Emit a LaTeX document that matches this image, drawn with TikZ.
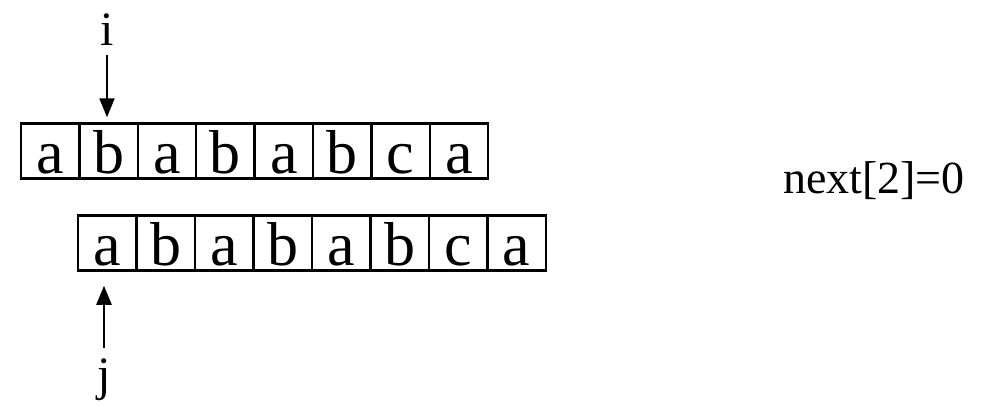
\documentclass[tikz,border=0pt]{standalone}
\usepackage{fontspec}
\setmainfont{Liberation Serif}
\usetikzlibrary{arrows.meta}
\tikzset{
  cell/.style={draw, line width=2.5pt, minimum width=58.4pt, minimum height=55pt,
    inner sep=0pt, text height=44pt, text depth=0pt, font=\fontsize{62}{74}\selectfont},
  ptr/.style={-{Triangle[length=19pt,width=15pt]}, line width=2.4pt},
  lbl/.style={inner sep=0pt, anchor=base, font=\fontsize{48}{58}\selectfont}
}
\begin{document}
\begin{tikzpicture}[x=1pt,y=-1pt]
  \useasboundingbox (0,0) rectangle (1007,405);
  % text row and pattern row
  \foreach \c [count=\k] in {a,b,a,b,a,b,c,a}{
    \node[cell] (t\k) at ({21+58.4*(\k-0.5)},151) {\c};
    \node[cell] (p\k) at ({78+58.5*(\k-0.5)},243) {\c};
  }
  \node[lbl] (i) at (107,45) {i};
  \node[lbl] (j) at (104,390) {j};
  \draw[ptr, shorten <=10pt, shorten >=5pt] (i.south) -- (i.south |- t2.north);
  \draw[ptr, shorten <=10pt, shorten >=14pt] (j.north) -- (j.north |- p1.south);
  \node[inner sep=0pt, anchor=base, font=\fontsize{46}{55}\selectfont] (nxt) at (874,193) {next[2]=0};
\end{tikzpicture}
\end{document}
